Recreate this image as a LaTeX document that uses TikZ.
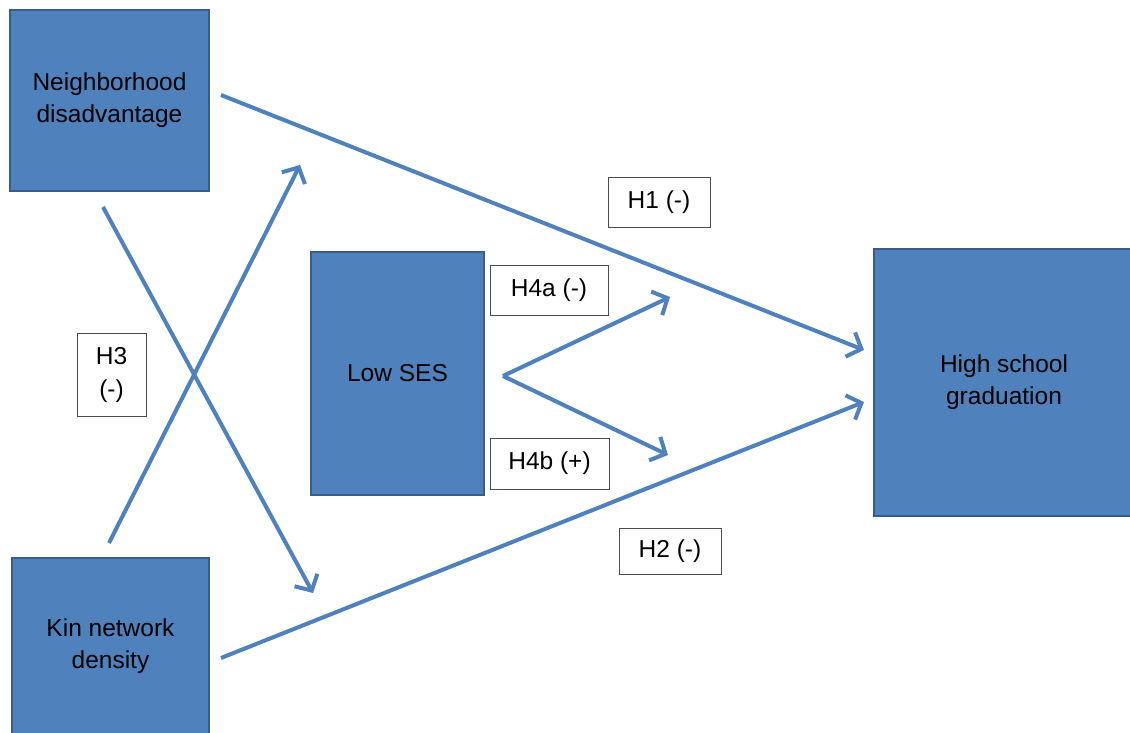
\documentclass[tikz,border=0pt]{standalone}
\usepackage{fontspec}
\setmainfont{Liberation Sans}
\usetikzlibrary{arrows.meta}
\definecolor{boxblue}{HTML}{4F81BD}
\definecolor{boxedge}{HTML}{385D8A}
\definecolor{arrowblue}{HTML}{4F81BD}
\begin{document}
\begin{tikzpicture}[x=1pt,y=-1pt,
 var/.style={draw=boxedge, line width=2.5pt, fill=boxblue, align=center, inner sep=0pt, outer sep=0pt, font=\fontsize{24.5}{32}\selectfont},
 lab/.style={draw=black!70, line width=0.8pt, fill=white, align=center, inner sep=0pt, font=\fontsize{24.5}{33}\selectfont},
 conn/.style={draw=arrowblue, line width=4pt, -{Straight Barb[length=12pt,width=26pt]}}
]
\useasboundingbox (0,0) rectangle (1130,733);
\node[var, minimum width=199pt, minimum height=181pt] (nd) at (109.5,100.5) {Neighborhood\\disadvantage};
\node[var, minimum width=197pt, minimum height=177pt] (kin) at (110.5,646.5) {Kin network\\density};
\node[var, minimum width=173pt, minimum height=243pt] (ses) at (397.5,373.5) {Low SES};
\node[var, minimum width=260pt, minimum height=267pt] (hs) at (1004,382.5) {High school\\graduation};

\coordinate (ndA) at (221,95); \coordinate (hsA) at (864,350);
\coordinate (kinA) at (221,658); \coordinate (hsB) at (864,402);
\coordinate (ndB) at (103,207); \coordinate (xB) at (313,593);
\coordinate (kinB) at (109,543); \coordinate (xA) at (300,165);
\coordinate (sesO) at (503,376); \coordinate (h4aT) at (670,297); \coordinate (h4bT) at (668,455);

\draw[conn] (ndA) -- (hsA);
\draw[conn] (kinA) -- (hsB);
\draw[conn] (ndB) -- (xB);
\draw[conn] (kinB) -- (xA);
\draw[conn] (sesO) -- (h4aT);
\draw[conn] (sesO) -- (h4bT);

\node[lab, minimum width=102pt, minimum height=50pt] (h1) at (659,202) {H1 (-)};
\node[lab, minimum width=118pt, minimum height=50pt] (h4a) at (549,290) {H4a (-)};
\node[lab, minimum width=119pt, minimum height=51pt] (h4b) at (549.5,463.5) {H4b (+)};
\node[lab, minimum width=102pt, minimum height=46pt] (h2) at (670,551) {H2 (-)};
\node[lab, minimum width=69pt, minimum height=83pt] (h3) at (111.5,374.5) {H3\\(-)};
\end{tikzpicture}
\end{document}
